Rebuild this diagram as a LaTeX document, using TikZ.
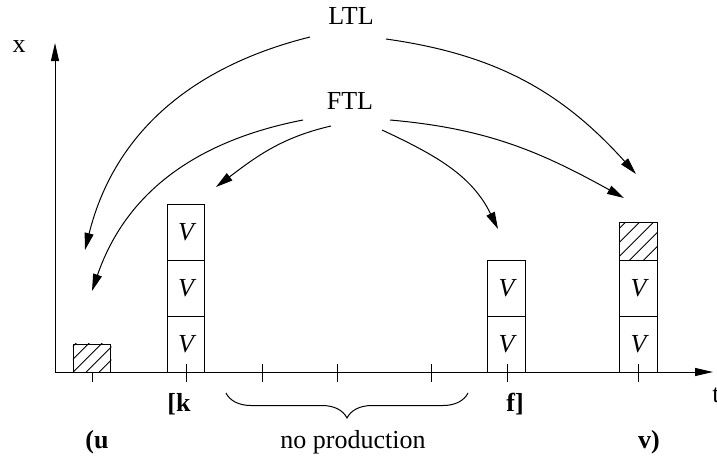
\documentclass[tikz,border=0pt]{standalone}
\usepackage{fontspec}
\setmainfont{Liberation Serif}
\usetikzlibrary{arrows.meta,decorations.pathreplacing,calc}
\begin{document}
\begin{tikzpicture}[x=0.5pt,y=0.5pt,
  every node/.style={font=\fontsize{13}{15}\selectfont},
  ln/.style={line width=0.5pt},
  vbox/.style={draw,ln,inner sep=0pt,minimum width=18.75pt,minimum height=28pt,font=\fontsize{13}{15}\selectfont\itshape},
  hbox/.style={draw,ln,inner sep=0pt,minimum width=18.75pt},
  hatch/.style={line width=0.45pt},
  axarrow/.style={ln,-{Triangle[length=9pt,width=4pt]}},
  carrow/.style={ln,-{Triangle[length=8.5pt,width=4.5pt]}},
  lbl/.style={inner sep=0pt,anchor=base},
  blbl/.style={inner sep=0pt,anchor=base,font=\fontsize{13}{15}\selectfont\bfseries}]
\useasboundingbox (0,0) rectangle (717,457);
% axes
\coordinate (origin) at (55,85);
\coordinate (ytip) at (55,414);
\coordinate (xtip) at (713,85);
\draw[axarrow] (origin) -- (ytip);
\draw[axarrow] (origin) -- (xtip);
\node[lbl] (xl) at (19,405) {x};
\node (tl) at (716,62) {t};
% ticks
\draw[ln] (92,85) -- (92,75.5);
\foreach \t in {186,262,337,431,507,638} \draw[ln] (\t,93.5) -- (\t,75.5);
% boxes column k
\node[vbox] (k1) at (186,113) {V};
\node[vbox] (k2) at (186,169) {V};
\node[vbox] (k3) at (186,225) {V};
% column f
\node[vbox] (f1) at (506.5,113) {V};
\node[vbox] (f2) at (506.5,169) {V};
% column v
\node[vbox] (v1) at (638.5,113) {V};
\node[vbox] (v2) at (638.5,169) {V};
\node[hbox,minimum height=18.75pt] (vh) at (638.5,215.75) {};
% u hatched
\node[hbox,minimum height=14pt] (uh) at (92,99) {};
% hatching
\begin{scope}
\clip (uh.south west) rectangle (uh.north east);
\foreach \i in {-52,-39,...,40} \draw[hatch] ($(uh.south west)+(\i,0)$) -- ++(60,60);
\end{scope}
\begin{scope}
\clip (vh.south west) rectangle (vh.north east);
\foreach \i in {-60,-46,...,40} \draw[hatch] ($(vh.south west)+(\i,0)$) -- ++(80,80);
\end{scope}
% labels
\node[blbl] (kl) at (179,46) {[k};
\node[blbl] (fl) at (515,46) {f]};
\node[blbl] (ul) at (97,9) {(u};
\node[blbl] (vl) at (649,9) {v)};
\node[lbl] (np) at (353,9) {no production};
\coordinate (bl) at (226,64);
\coordinate (br) at (468,64);
\draw[ln,decorate,decoration={brace,mirror,amplitude=12.5pt}] (bl) -- (br);
% titles
\node (ltl) at (351,441) {LTL};
\node (ftl) at (350,356) {FTL};
% arrow endpoints
\coordinate (ls1) at (310,420); \coordinate (le1) at (85,207);
\coordinate (ls2) at (386,418); \coordinate (le2) at (636,283);
\coordinate (fs1) at (303,337); \coordinate (fe1) at (92,166);
\coordinate (fs2) at (331,331); \coordinate (fe2) at (216,270);
\coordinate (fs3) at (382,327); \coordinate (fe3) at (498,228);
\coordinate (fs4) at (390,337); \coordinate (fe4) at (624,259);
\draw[carrow] (ls1) to[out=194,in=76] (le1);
\draw[carrow] (ls2) to[out=-8,in=132] (le2);
\draw[carrow] (fs1) to[out=191,in=71] (fe1);
\draw[carrow] (fs2) to[out=193,in=37] (fe2);
\draw[carrow] (fs3) to[out=-25,in=116] (fe3);
\draw[carrow] (fs4) to[out=-5,in=151] (fe4);
\end{tikzpicture}
\end{document}
